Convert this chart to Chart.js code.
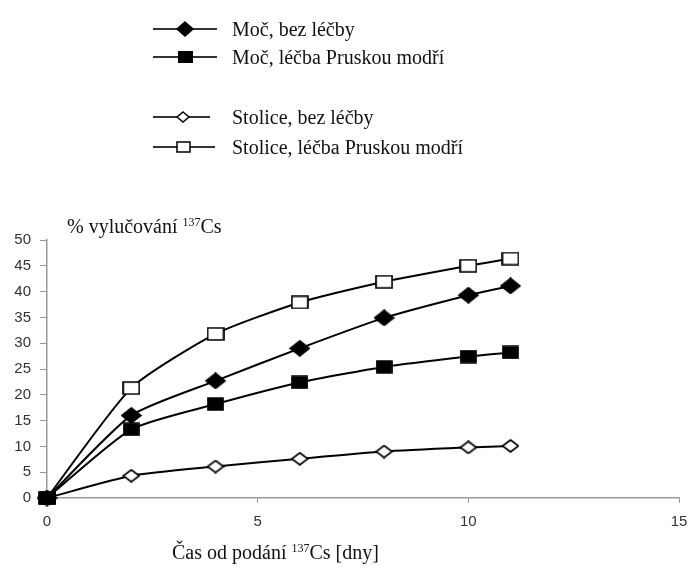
<!DOCTYPE html>
<html>
<head>
<meta charset="utf-8">
<script src="https://cdn.jsdelivr.net/npm/chart.js@4.4.1/dist/chart.umd.min.js"></script>
<style>
  html, body { margin: 0; padding: 0; background: #fff; }
  #wrap { position: relative; width: 689px; height: 576px; }
  #chart { position: absolute; left: 0; top: 0; }
  .serif { font-family: "Liberation Serif", "Times New Roman", serif; font-size: 20px; color: #111; line-height: 20px; position: absolute; white-space: nowrap; }
  .serif sup { font-size: 12px; vertical-align: 7px; line-height: 0; }
  .leg-row { position: absolute; left: 150px; height: 20px; }
  .leg-row svg { position: absolute; left: 0; top: 0; }
  .leg-row span { position: absolute; left: 82px; top: 0; }
</style>
</head>
<body>
<div id="wrap">
  <canvas id="chart" width="689" height="576"></canvas>
  <div id="legend"></div>
  <div class="serif" style="left:67px; top:216px;">% vylučování <sup>137</sup>Cs</div>
  <div class="serif" style="left:172px; top:542px;">Čas od podání <sup>137</sup>Cs [dny]</div>
</div>
<script>
// data
const days = [0, 2, 4, 6, 8, 10, 11];
const urineNoTreatment = [0, 16.0, 22.7, 29.0, 34.9, 39.3, 41.1];
const urinePrussianBlue = [0, 13.3, 18.2, 22.4, 25.4, 27.4, 28.2];
const fecesNoTreatment = [0, 4.3, 6.1, 7.6, 9.0, 9.8, 10.1];
const fecesPrussianBlue = [0, 21.3, 31.8, 37.9, 41.9, 45.0, 46.4];
const seriesLabels = [
  'Moč, bez léčby',
  'Moč, léčba Pruskou modří',
  'Stolice, bez léčby',
  'Stolice, léčba Pruskou modří'
];
const xTicks = [0, 5, 10, 15];

// marker images (slightly wider than tall, like the scan)
function marker(shape, filled, w, h) {
  const c = document.createElement('canvas');
  c.width = w; c.height = h;
  const g = c.getContext('2d');
  g.lineWidth = 1.7;
  g.strokeStyle = '#000';
  g.fillStyle = filled ? '#000' : '#fff';
  g.beginPath();
  if (shape === 'diamond') {
    g.moveTo(w / 2, 1); g.lineTo(w - 1, h / 2); g.lineTo(w / 2, h - 1); g.lineTo(1, h / 2); g.closePath();
  } else {
    g.rect(1, 1, w - 2, h - 2);
  }
  g.fill();
  g.stroke();
  return c;
}
const markers = [
  marker('diamond', true, 21, 17),
  marker('square', true, 17, 14),
  marker('diamond', false, 18, 14),
  marker('square', false, 18, 14)
];

function toPoints(ys) {
  return days.map((d, i) => ({ x: d, y: ys[i] }));
}

const allSeries = [urineNoTreatment, urinePrussianBlue, fecesNoTreatment, fecesPrussianBlue];
const drawOrder = [1, 0, 2, 3];

const ctx = document.getElementById('chart').getContext('2d');
new Chart(ctx, {
  type: 'line',
  data: {
    datasets: allSeries.map((ys, i) => ({
      label: seriesLabels[i],
      data: toPoints(ys),
      borderColor: '#000',
      borderWidth: 2,
      tension: 0.2,
      pointStyle: markers[i],
      pointRadius: 8,
      clip: false,
      order: drawOrder[i]
    }))
  },
  options: {
    responsive: false,
    animation: false,
    layout: { padding: { top: 240, right: 10, left: 0, bottom: 0 } },
    plugins: {
      legend: { display: false },
      tooltip: { enabled: false }
    },
    scales: {
      x: {
        type: 'linear',
        min: 0,
        max: 15,
        afterBuildTicks: (axis) => { axis.ticks = xTicks.map(v => ({ value: v })); },
        afterFit: (axis) => { axis.height = 78; axis.paddingRight = 0; axis.paddingLeft = 0; },
        grid: { drawOnChartArea: false, drawTicks: true, tickLength: 5, color: '#999' },
        border: { color: '#999', width: 1.5 },
        ticks: { color: '#333', padding: 10, font: { family: 'Liberation Sans', size: 15 }, maxRotation: 0 }
      },
      y: {
        min: 0,
        max: 50,
        afterFit: (axis) => { axis.width = 47; },
        grid: { drawOnChartArea: false, drawTicks: true, tickLength: 7, color: '#999' },
        border: { color: '#999', width: 1.5 },
        ticks: { stepSize: 5, color: '#333', padding: 9, font: { family: 'Liberation Sans', size: 15 } }
      }
    }
  }
});

// legend with line-marker-line symbols
const legendRows = [29, 57, 117, 147];
const legendShapes = [
  '<polygon points="35,3 43,10 35,17 27,10" fill="#000" stroke="#000" stroke-width="1.5"/>',
  '<rect x="28" y="4" width="15" height="12" fill="#000"/>',
  '<polygon points="33,5 39,10 33,15 27,10" fill="#fff" stroke="#000" stroke-width="1.5"/>',
  '<rect x="27" y="5" width="13" height="10" fill="#fff" stroke="#000" stroke-width="1.5"/>'
];
const legendEnds = [67, 67, 60, 65];
const legendEl = document.getElementById('legend');
seriesLabels.forEach((lab, i) => {
  const row = document.createElement('div');
  row.className = 'leg-row';
  row.style.top = (legendRows[i] - 10) + 'px';
  row.innerHTML =
    '<svg width="75" height="20"><line x1="3" y1="10" x2="' + legendEnds[i] + '" y2="10" stroke="#333" stroke-width="2"/>' +
    legendShapes[i] + '</svg><span class="serif" style="position:absolute">' + lab + '</span>';
  legendEl.appendChild(row);
});
</script>
</body>
</html>
